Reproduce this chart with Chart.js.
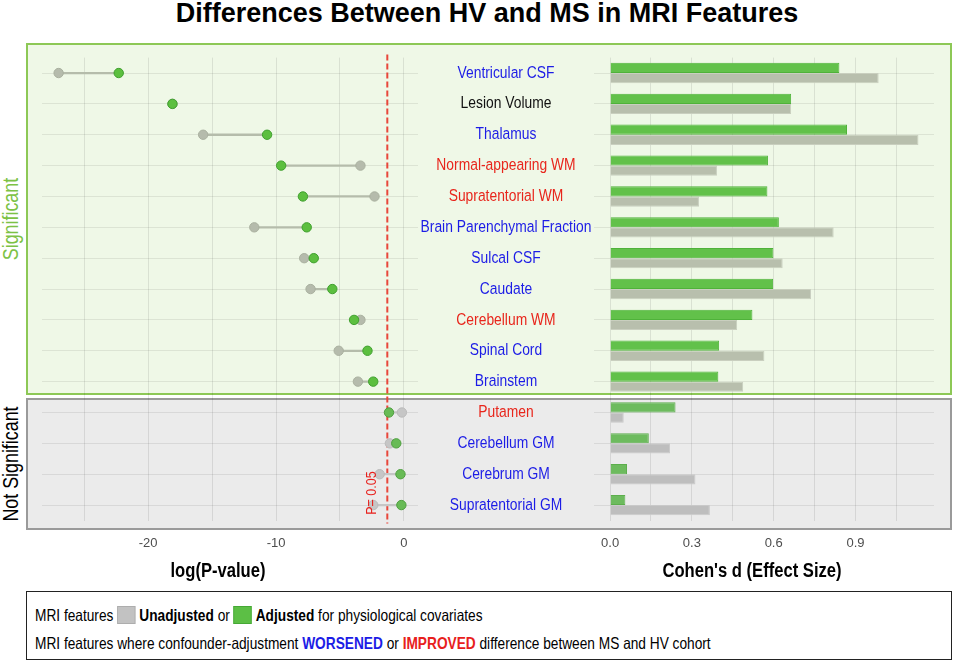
<!DOCTYPE html>
<html><head><meta charset="utf-8">
<script src="https://cdn.jsdelivr.net/npm/chart.js@4.4.1/dist/chart.umd.min.js"></script>
<style>
html,body{margin:0;padding:0;background:#fff;}
body{width:957px;height:664px;position:relative;overflow:hidden;font-family:"Liberation Sans",Arial,sans-serif;color:#000;}
.abs{position:absolute;}
#title{left:0;width:974px;top:0px;height:27px;line-height:27px;text-align:center;font-weight:bold;font-size:27px;white-space:nowrap;}
#sigPanel{left:26px;top:43px;width:926px;height:352px;box-sizing:border-box;background:#eff8e7;border:2px solid #8dc856;}
#nsPanel{left:26px;top:398px;width:926px;height:132px;box-sizing:border-box;background:#ebebeb;border:2px solid #9a9a9a;}
.side{width:300px;height:26px;line-height:26px;text-align:center;white-space:nowrap;transform-origin:50% 50%;}
.axt{width:300px;height:24px;line-height:24px;text-align:center;font-weight:bold;white-space:nowrap;transform-origin:50% 50%;}
#legend{left:26px;top:591px;width:926px;height:69px;box-sizing:border-box;border:1.5px solid #222;background:#fff;}
.lline{left:8px;height:28px;line-height:28px;white-space:nowrap;transform-origin:0 50%;}
.sq{display:inline-block;width:22px;height:18px;vertical-align:-3px;box-sizing:border-box;}
canvas{position:absolute;}
</style></head>
<body>
<div id="sigPanel" class="abs"></div>
<div id="nsPanel" class="abs"></div>
<div id="title" class="abs">Differences Between HV and MS in MRI Features</div>
<div id="sideSig" class="abs side nf" data-size="21.5" data-rot="1" style="left:-139px;top:206px;color:#7cc245;">Significant</div>
<div id="sideNs" class="abs side nf" data-size="21.5" data-rot="1" style="left:-139px;top:451px;color:#000;">Not Significant</div>
<canvas id="left" width="400" height="520" style="left:27px;top:40px;width:400px;height:520px;"></canvas>
<canvas id="right" width="533" height="520" style="left:418px;top:40px;width:533px;height:520px;"></canvas>
<div class="abs axt nf" data-size="20" style="left:68px;top:558px;">log(P-value)</div>
<div class="abs axt nf" data-size="20" style="left:602px;top:558px;">Cohen's d (Effect Size)</div>
<div id="legend" class="abs">
  <div class="abs lline nf" data-size="16.5" style="top:9px;">MRI features <span class="sq" style="background:#c2c2c2;border:1px solid #adadad;"></span> <b>Unadjusted</b> or <span class="sq" style="background:#5cbf45;border:1px solid #45a835;"></span> <b>Adjusted</b> for physiological covariates</div>
  <div class="abs lline nf" data-size="16.5" style="top:37px;">MRI features where confounder-adjustment <b style="color:#1c1ce6;">WORSENED</b> or <b style="color:#e8201c;">IMPROVED</b> difference between MS and HV cohort</div>
</div>
<script>
// ---------------- data ----------------
const features = ['Ventricular CSF','Lesion Volume','Thalamus','Normal-appearing WM','Supratentorial WM','Brain Parenchymal Fraction','Sulcal CSF','Caudate','Cerebellum WM','Spinal Cord','Brainstem','Putamen','Cerebellum GM','Cerebrum GM','Supratentorial GM'];
const significance = ['S','S','S','S','S','S','S','S','S','S','S','N','N','N','N'];
const adjustmentEffect = ['W','-','W','I','I','W','W','W','I','W','W','I','W','W','W'];
const logPUnadjusted = [-27.0,-18.1,-15.7,-3.4,-2.3,-11.7,-7.8,-7.3,-3.4,-5.1,-3.6,-0.16,-1.1,-1.9,-2.4];
const logPAdjusted   = [-22.3,-18.1,-10.7,-9.6,-7.9,-7.6,-7.05,-5.6,-3.9,-2.85,-2.4,-1.17,-0.6,-0.27,-0.2];
const dUnadjusted = [0.985,0.664,1.131,0.392,0.326,0.820,0.633,0.737,0.466,0.566,0.488,0.050,0.220,0.313,0.366];
const dAdjusted   = [0.841,0.664,0.869,0.579,0.577,0.619,0.599,0.598,0.522,0.400,0.397,0.240,0.142,0.062,0.056];
const pTickLabels = [-20,-10,0];
const dTickLabels = [0.0,0.3,0.6,0.9];
const pThreshold = -1.3;

// ---------------- fonts (condensed look) ----------------
const hasNarrow = (()=>{const c=document.createElement('canvas').getContext('2d');const s='MRI features where confounder WORSENED';c.font='20px monospace';const a=c.measureText(s).width;c.font='20px "Liberation Sans Narrow", monospace';const b=c.measureText(s).width;return Math.abs(a-b)>0.5;})();
const NF = hasNarrow ? '"Liberation Sans Narrow", "Liberation Sans", Arial, sans-serif' : '"Liberation Sans", Arial, sans-serif';
const SX = hasNarrow ? 1 : 0.83;
document.querySelectorAll('.nf').forEach(el=>{
  el.style.fontFamily=NF; el.style.fontSize=el.dataset.size+'px';
  el.style.transform=(el.dataset.rot?'rotate(-90deg) ':'')+'scaleX('+SX+')';
});

const labelColor = {W:'#1c1ce6', I:'#e8261c', '-':'#111111'};
const isSig = i => significance[i]==='S';
function condensedText(ctx, text, x, y, size, color, rot){
  ctx.save();
  ctx.translate(x,y);
  if(rot) ctx.rotate(rot);
  ctx.scale(SX,1);
  ctx.font=size+'px '+NF; ctx.fillStyle=color; ctx.textAlign='center'; ctx.textBaseline='middle';
  ctx.fillText(text,0,0);
  ctx.restore();
}

// ---------------- left chart (dumbbell) ----------------
const thresholdPlugin = {
  id:'threshold',
  beforeDatasetsDraw(chart){
    const {ctx, chartArea, scales:{x}} = chart;
    const px = x.getPixelForValue(pThreshold);
    ctx.save();
    ctx.strokeStyle='#e8473b'; ctx.lineWidth=2; ctx.setLineDash([6,3]);
    ctx.beginPath(); ctx.moveTo(px, chartArea.top-3); ctx.lineTo(px, chartArea.bottom+3); ctx.stroke();
    ctx.restore();
  },
  afterDatasetsDraw(chart){
    const {ctx, scales:{x,y}} = chart;
    const px = x.getPixelForValue(pThreshold);
    condensedText(ctx, 'P= 0.05', px-15, y.getPixelForValue(features.length-1)-12, 15, '#e8201c', -Math.PI/2);
  }
};
const tickFont = {family:'"Liberation Sans", Arial, sans-serif', size:13};
new Chart(document.getElementById('left'), {
  type:'bar',
  data:{labels:features, datasets:[
    {type:'scatter', label:'Adjusted', order:0,
     data:features.map((f,i)=>({x:logPAdjusted[i], y:f})),
     backgroundColor:features.map((f,i)=>isSig(i)?'#5cbf3f':'#68bb56'),
     borderColor:features.map((f,i)=>isSig(i)?'#3f9f2e':'#4f9f40'),
     borderWidth:1, pointRadius:4.7},
    {type:'scatter', label:'Unadjusted', order:1,
     data:features.map((f,i)=>({x:logPUnadjusted[i], y:f})),
     backgroundColor:features.map((f,i)=>isSig(i)?'#b5bbac':'#c6c6c6'),
     borderColor:features.map((f,i)=>isSig(i)?'#a9b09f':'#bababa'),
     borderWidth:1, pointRadius:4.7},
    {type:'bar', label:'change', order:2,
     data:features.map((f,i)=>[logPUnadjusted[i], logPAdjusted[i]]),
     backgroundColor:features.map((f,i)=>isSig(i)?'#b5bcab':'#c6c6c6'),
     barThickness:1.6, borderWidth:0}
  ]},
  options:{
    indexAxis:'y', responsive:false, animation:false, devicePixelRatio:1,
    layout:{padding:{left:15,right:9,top:17.6,bottom:0}},
    plugins:{legend:{display:false}, tooltip:{enabled:false}},
    scales:{
      x:{type:'linear', min:-28.3, max:1.1,
         ticks:{stepSize:5, includeBounds:false, autoSkip:false, maxRotation:0,
                callback:v=>pTickLabels.includes(v)?String(v):'', padding:15, color:'#4d4d4d', font:tickFont},
         grid:{color:'rgba(0,0,0,0.09)', drawTicks:false}, border:{display:false},
         afterFit(s){s.height=39.5;}},
      y:{type:'category', offset:true,
         grid:{offset:false, color:'rgba(0,0,0,0.08)', drawTicks:false},
         ticks:{display:false}, border:{display:false},
         afterFit(s){s.width=0;}}
    }
  },
  plugins:[thresholdPlugin]
});

// ---------------- right chart (bars) ----------------
const labelCenterOffset = 88;   // label centre sits this far left of the plot area
const centerLabels = {
  id:'centerLabels',
  afterDraw(chart){
    const {ctx, chartArea, scales:{y}} = chart;
    features.forEach((f,i)=>condensedText(ctx, f, chartArea.left-labelCenterOffset, y.getPixelForValue(i), 16.7, labelColor[adjustmentEffect[i]]));
  }
};
new Chart(document.getElementById('right'), {
  type:'bar',
  data:{labels:features, datasets:[
    {label:'Adjusted', data:dAdjusted,
     backgroundColor:features.map((f,i)=>isSig(i)?'#62c14a':'#6dbb5e'),
     borderColor:features.map((f,i)=>isSig(i)?'#4fb23a':'#5cae4c'),
     borderWidth:1, categoryPercentage:0.66, barPercentage:1},
    {label:'Unadjusted', data:dUnadjusted,
     backgroundColor:features.map((f,i)=>isSig(i)?'#b8bfad':'#bebebe'),
     borderColor:features.map((f,i)=>isSig(i)?'#c9cfbf':'#c9c9c9'),
     borderWidth:1, categoryPercentage:0.66, barPercentage:1}
  ]},
  options:{
    indexAxis:'y', responsive:false, animation:false, devicePixelRatio:1,
    layout:{padding:{left:0,right:17,top:17.6,bottom:0}},
    plugins:{legend:{display:false}, tooltip:{enabled:false}},
    scales:{
      x:{type:'linear', min:-0.059, max:1.188,
         ticks:{stepSize:0.15, includeBounds:false, autoSkip:false, maxRotation:0,
                callback:v=>dTickLabels.some(t=>Math.abs(t-v)<1e-6)?v.toFixed(1):'', padding:15, color:'#4d4d4d', font:tickFont},
         grid:{color:'rgba(0,0,0,0.09)', drawTicks:false}, border:{display:false},
         afterFit(s){s.height=39.5;}},
      y:{type:'category', offset:true,
         grid:{offset:false, color:'rgba(0,0,0,0.08)', drawTicks:false},
         ticks:{display:false}, border:{display:false},
         afterFit(s){s.width=176;}}
    }
  },
  plugins:[centerLabels]
});
</script>
</body></html>
